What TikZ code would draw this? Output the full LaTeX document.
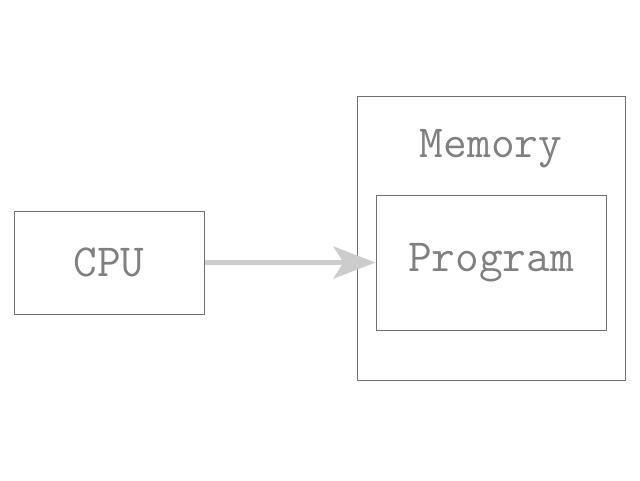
\documentclass[tikz,border=0pt]{standalone}
\usetikzlibrary{arrows.meta}
\definecolor{boxline}{HTML}{707070}
\definecolor{txt}{HTML}{808080}
\definecolor{arr}{HTML}{CCCCCC}
\tikzset{
  box/.style={draw=boxline, line width=1pt, inner sep=0pt},
  lbl/.style={text=txt, font=\ttfamily\fontsize{46}{50}\selectfont, inner sep=0pt},
  conn/.style={draw=arr, line width=5pt, -{Stealth[length=42pt, width=32pt, inset=10pt]}}
}
\begin{document}
\begin{tikzpicture}[x=1pt,y=1pt]
\useasboundingbox (0,0) rectangle (640,-480);
\node[box, minimum width=190pt, minimum height=103pt] (cpu) at (109,-262.5) {};
\node[lbl] at (cpu.center) {CPU};
\node[box, minimum width=268pt, minimum height=284pt] (mem) at (491,-238) {};
\node[lbl] (memlbl) at (491,-149) {Memory};
\node[box, minimum width=230pt, minimum height=135pt] (prog) at (491,-262.5) {};
\node[lbl] at (prog.center) {Program};
\draw[conn] (cpu.east) -- (prog.west);
\end{tikzpicture}
\end{document}
